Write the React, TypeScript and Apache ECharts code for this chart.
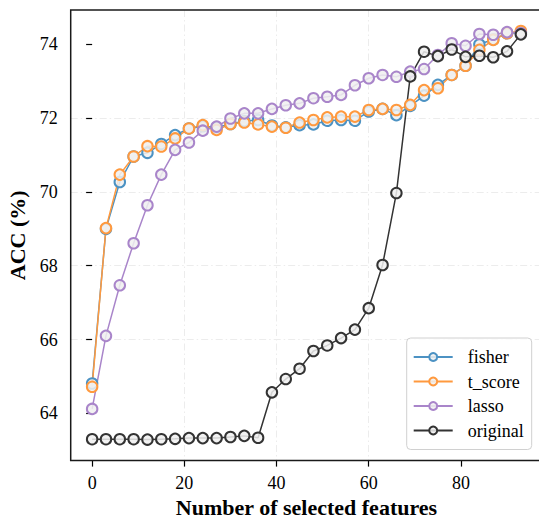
import React, { useEffect, useRef } from "react";
import * as echarts from "echarts";

const xValues = [0, 3, 6, 9, 12, 15, 18, 21, 24, 27, 30, 33, 36, 39, 42, 45, 48, 51, 54, 57, 60, 63, 66, 69, 72, 75, 78, 81, 84, 87, 90, 93];

const fisher = [64.81, 69.0, 70.27, 70.96, 71.06, 71.3, 71.54, 71.72, 71.78, 71.75, 71.84, 71.92, 71.95, 71.8, 71.75, 71.81, 71.83, 71.93, 71.95, 71.93, 72.18, 72.25, 72.08, 72.33, 72.61, 72.9, 73.17, 73.42, 74.0, 74.13, 74.3, 74.33];
const tScore = [64.72, 69.02, 70.47, 70.96, 71.24, 71.23, 71.45, 71.72, 71.81, 71.68, 71.84, 71.88, 71.83, 71.77, 71.74, 71.88, 71.95, 72.02, 72.04, 72.04, 72.22, 72.25, 72.22, 72.36, 72.76, 72.81, 73.17, 73.42, 73.85, 74.12, 74.3, 74.36];
const lasso = [64.12, 66.1, 67.47, 68.61, 69.64, 70.47, 71.14, 71.34, 71.66, 71.77, 71.99, 72.13, 72.13, 72.25, 72.35, 72.4, 72.54, 72.58, 72.63, 72.89, 73.08, 73.17, 73.12, 73.26, 73.33, 73.71, 74.03, 73.96, 74.28, 74.26, 74.33, 74.3];
const original = [63.3, 63.3, 63.3, 63.3, 63.29, 63.3, 63.31, 63.33, 63.33, 63.33, 63.36, 63.39, 63.34, 64.57, 64.93, 65.21, 65.69, 65.84, 66.04, 66.27, 66.85, 68.02, 69.97, 73.13, 73.8, 73.68, 73.86, 73.66, 73.69, 73.65, 73.81, 74.27];

const seriesNames = ["fisher", "t_score", "lasso", "original"];
const xTicks = [0, 20, 40, 60, 80];
const yTicks = [64, 66, 68, 70, 72, 74];

const FONT = "'Liberation Serif', 'Times New Roman', Times, serif";

export default function App() {
  const ref = useRef<HTMLDivElement>(null);

  useEffect(() => {
    if (!ref.current) return;
    const chart = echarts.init(ref.current, undefined, { renderer: "svg" });

    const colors = ["#4c92c3", "#ff993e", "#a985ca", "#333333"];
    const values = [fisher, tScore, lasso, original];

    const series = seriesNames.map((name, k) => ({
      type: "line",
      name,
      data: xValues.map((x, i) => [x, values[k][i]]),
      symbol: "circle",
      symbolSize: 10.5,
      showSymbol: true,
      lineStyle: { color: colors[k], width: 1.5 },
      itemStyle: { color: "rgba(240,240,240,0.85)", borderColor: colors[k], borderWidth: 2 },
      emphasis: { disabled: true },
      z: 2,
    }));

    const splitLine = {
      show: true,
      showMinLine: false,
      showMaxLine: false,
      lineStyle: { color: "#ececec", width: 1, type: [7, 3, 1.5, 3] },
    };

    chart.setOption({
      animation: false,
      textStyle: { fontFamily: FONT },
      grid: {
        left: 70.7,
        top: 10,
        width: 471.6,
        height: 450.6,
        show: true,
        borderColor: "#1a1a1a",
        borderWidth: 1.5,
        backgroundColor: "transparent",
        containLabel: false,
        outerBoundsMode: "none",
        z: 5,
      },
      xAxis: {
        type: "value",
        min: -4.65,
        max: 97.65,
        name: "Number of selected features",
        nameLocation: "middle",
        nameGap: 36,
        nameTextStyle: { fontFamily: FONT, fontSize: 22, fontWeight: "bold", color: "#000" },
        axisLine: { show: false },
        axisTick: { show: true, length: 6, inside: false, customValues: xTicks, lineStyle: { color: "#000", width: 1.2 } },
        axisLabel: { customValues: xTicks, margin: 13, fontFamily: FONT, fontSize: 18, color: "#000" },
        splitLine,
      },
      yAxis: {
        type: "value",
        min: 62.72,
        max: 74.93,
        name: "ACC (%)",
        nameLocation: "middle",
        nameGap: 40,
        nameTextStyle: { fontFamily: FONT, fontSize: 22, fontWeight: "bold", color: "#000" },
        axisLine: { show: false },
        axisTick: { show: true, length: 6, inside: false, customValues: yTicks, lineStyle: { color: "#000", width: 1.2 } },
        axisLabel: { customValues: yTicks, margin: 13, fontFamily: FONT, fontSize: 18, color: "#000" },
        splitLine,
      },
      legend: {
        data: seriesNames,
        orient: "vertical",
        left: 406.7,
        top: 338,
        itemWidth: 39,
        itemHeight: 10,
        itemGap: 6.5,
        padding: [10, 8, 10, 6],
        backgroundColor: "rgba(255,255,255,0.85)",
        borderColor: "#d0d0d0",
        borderWidth: 1,
        borderRadius: 4,
        selectedMode: false,
        textStyle: { fontFamily: FONT, fontSize: 18, color: "#000", lineHeight: 18, padding: [0, 0, 0, 10] },
        z: 10,
      },
      series,
    });

    return () => chart.dispose();
  }, []);

  return (
    <div
      ref={ref}
      style={{ position: "absolute", left: 0, top: 0, width: 539, height: 522, background: "#fff" }}
    />
  );
}
